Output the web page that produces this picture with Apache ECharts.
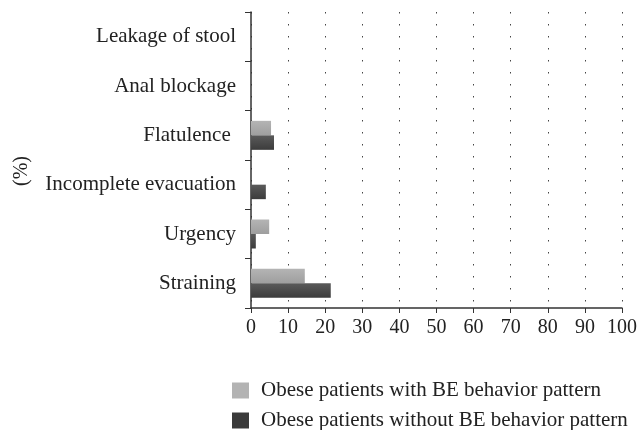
<!DOCTYPE html>
<html><head><meta charset="utf-8">
<script src="https://cdn.jsdelivr.net/npm/echarts@6/dist/echarts.min.js"></script>
<style>html,body{margin:0;padding:0;background:#fff}#c{width:640px;height:430px}</style>
</head><body><div id="c"></div>
<script>
var categories = ['Straining', 'Urgency', 'Incomplete evacuation', 'Flatulence ', 'Anal blockage', 'Leakage of stool'];
var withBE = [14.5, 4.9, 0, 5.4, 0, 0];
var withoutBE = [21.5, 1.3, 4.0, 6.2, 0, 0];
var xTicks = [0, 10, 20, 30, 40, 50, 60, 70, 80, 90, 100];
var seriesNames = ['Obese patients with BE behavior pattern', 'Obese patients without BE behavior pattern'];
var FONT = 'Liberation Serif';
var chart = echarts.init(document.getElementById('c'));
function grad(a, b) {
  return new echarts.graphic.LinearGradient(0, 0, 0, 1, [{offset: 0, color: a}, {offset: 1, color: b}]);
}
var legendText = {fontFamily: FONT, fontSize: 21, color: '#222', padding: [0, 0, 0, 7]};
chart.setOption({
  animation: false,
  textStyle: {fontFamily: FONT},
  grid: {left: 251, right: 17, top: 12, bottom: 122},
  legend: [{
    orient: 'vertical', left: 227, top: 375, itemWidth: 17, itemHeight: 16,
    icon: 'rect',
    data: [{name: seriesNames[0], itemStyle: {color: '#b3b3b3'}}],
    textStyle: legendText
  }, {
    orient: 'vertical', left: 227, top: 405, itemWidth: 17, itemHeight: 16,
    icon: 'rect',
    data: [{name: seriesNames[1], itemStyle: {color: '#3a3a3a'}}],
    textStyle: legendText
  }],
  xAxis: {
    type: 'value', min: 0, max: 100, interval: 10,
    axisLine: {show: true, lineStyle: {color: '#333', width: 1.5}},
    axisTick: {show: true, length: 5, lineStyle: {color: '#333'}},
    axisLabel: {fontFamily: FONT, fontSize: 20, color: '#222', margin: 10,
      formatter: function (v) { return xTicks.indexOf(v) >= 0 ? String(v) : ''; }},
    splitLine: {show: true, lineStyle: {color: '#444', type: [1.5, 10.5], width: 1}}
  },
  yAxis: {
    type: 'category', data: categories,
    axisLine: {show: true, lineStyle: {color: '#333', width: 1.5}},
    axisTick: {show: true, length: 6, lineStyle: {color: '#333'}},
    axisLabel: {fontFamily: FONT, fontSize: 21, color: '#222', margin: 15},
    splitLine: {show: false}
  },
  graphic: [{
    type: 'text', left: 12, top: 156, rotation: Math.PI / 2,
    style: {text: '(%)', font: '20px "Liberation Serif"', fill: '#222'}
  }],
  series: [
    {name: seriesNames[0], type: 'bar', data: withBE, barWidth: 14.5, barGap: '0%',
      itemStyle: {color: grad('#b4b4b4', '#9e9e9e')}},
    {name: seriesNames[1], type: 'bar', data: withoutBE, barWidth: 14.5, barGap: '0%',
      itemStyle: {color: grad('#5a5a5a', '#3c3c3c')}}
  ]
});
</script></body></html>
